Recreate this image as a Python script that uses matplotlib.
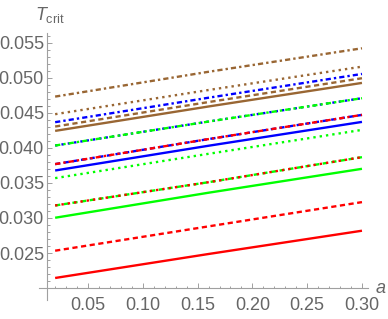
import matplotlib
matplotlib.use("Agg")
import matplotlib.pyplot as plt
from matplotlib.ticker import FixedLocator

plt.rcParams["font.family"] = ["Liberation Sans", "DejaVu Sans"]
plt.rcParams["mathtext.fontset"] = "custom"
plt.rcParams["mathtext.rm"] = "Liberation Sans"
plt.rcParams["mathtext.it"] = "Liberation Sans:italic"

a = [0.02, 0.16, 0.30]

red_solid = [0.02144, 0.02486, 0.02818]
red_dashed = [0.02533, 0.02880, 0.03226]
red_dotted = [0.03178, 0.03510, 0.03867]
red_dotdash = [0.03768, 0.04125, 0.04470]

green_solid = [0.03003, 0.03360, 0.03701]
green_dashed = [0.03178, 0.03510, 0.03867]
green_dotted = [0.03568, 0.03915, 0.04256]
green_dotdash = [0.04033, 0.04375, 0.04708]

blue_solid = [0.03677, 0.04030, 0.04370]
blue_dashed = [0.03768, 0.04125, 0.04470]
blue_dotted = [0.04033, 0.04375, 0.04708]
blue_dotdash = [0.04366, 0.04715, 0.05054]

brown_solid = [0.04242, 0.04590, 0.04926]
brown_dashed = [0.04304, 0.04653, 0.04993]
brown_dotted = [0.04480, 0.04825, 0.05158]
brown_dotdash = [0.04731, 0.05085, 0.05420]

xticks = [0.05, 0.10, 0.15, 0.20, 0.25, 0.30]
yticks = [0.025, 0.030, 0.035, 0.040, 0.045, 0.050, 0.055]

RED = "#ff0000"
GREEN = "#00ff00"
BLUE = "#0000ff"
BROWN = "#996633"

styles = {
    "solid": None,
    "dashed": (2.2, 1.5),
    "dotted": (1.0, 1.7),
    "dotdash": (2.2, 1.3, 1.0, 1.3),
}

W, H = 388, 319
fig = plt.figure(figsize=(W / 100, H / 100), dpi=100)
ax = fig.add_axes([46.7 / W, (H - 288) / H, (368 - 46.7) / W, (288 - 33) / H])


def draw(y, color, style):
    (ln,) = ax.plot(a, y, color=color, lw=1.7, solid_capstyle="butt",
                    dash_capstyle="butt")
    if styles[style] is not None:
        ln.set_dashes(styles[style])


# hidden-ish lines first, overlapping ones on top
draw(blue_dotted, BLUE, "dotted")
draw(blue_dashed, BLUE, "dashed")
draw(green_dashed, GREEN, "dashed")

draw(red_solid, RED, "solid")
draw(red_dashed, RED, "dashed")
draw(red_dotted, RED, "dotted")
draw(red_dotdash, RED, "dotdash")
draw(green_solid, GREEN, "solid")
draw(green_dotted, GREEN, "dotted")
draw(green_dotdash, GREEN, "dotdash")
draw(blue_solid, BLUE, "solid")
draw(blue_dotdash, BLUE, "dotdash")
draw(brown_solid, BROWN, "solid")
draw(brown_dashed, BROWN, "dashed")
draw(brown_dotted, BROWN, "dotted")
draw(brown_dotdash, BROWN, "dotdash")

ax.set_xlim(0.0123, 0.3055)
ax.set_ylim(0.02001, 0.05638)

for s in ["top", "right"]:
    ax.spines[s].set_visible(False)
for s in ["left", "bottom"]:
    ax.spines[s].set_color("#a0a0a0")
    ax.spines[s].set_linewidth(0.8)
ax.spines["left"].set_bounds(0.0183, 0.05638)
ax.spines["bottom"].set_bounds(0.0053, 0.3055)

ax.xaxis.set_major_locator(FixedLocator(xticks))
ax.yaxis.set_major_locator(FixedLocator(yticks))
ax.xaxis.set_minor_locator(FixedLocator([i / 100 for i in range(2, 31)]))
ax.yaxis.set_minor_locator(FixedLocator([i / 1000 for i in range(21, 57)]))
ax.set_xticklabels([f"{t:.2f}" for t in xticks])
ax.set_yticklabels([f"{t:.3f}" for t in yticks])

ax.tick_params(which="both", direction="in", color="#a0a0a0", width=0.7,
               labelcolor="#666666", labelsize=13)
ax.tick_params(which="major", length=3.6)
ax.tick_params(which="minor", length=1.8)
ax.tick_params(axis="x", pad=6.5)
ax.tick_params(axis="y", pad=2)

fig.text(35 / W, 1 - 20 / H, r"$T_{\mathrm{crit}}$", fontsize=13,
         color="#666666", ha="left", va="baseline")
fig.text(376 / W, 1 - 293 / H, "a", fontsize=13, style="italic",
         color="#666666", ha="left", va="baseline")

fig.savefig("out.png", dpi=100)
